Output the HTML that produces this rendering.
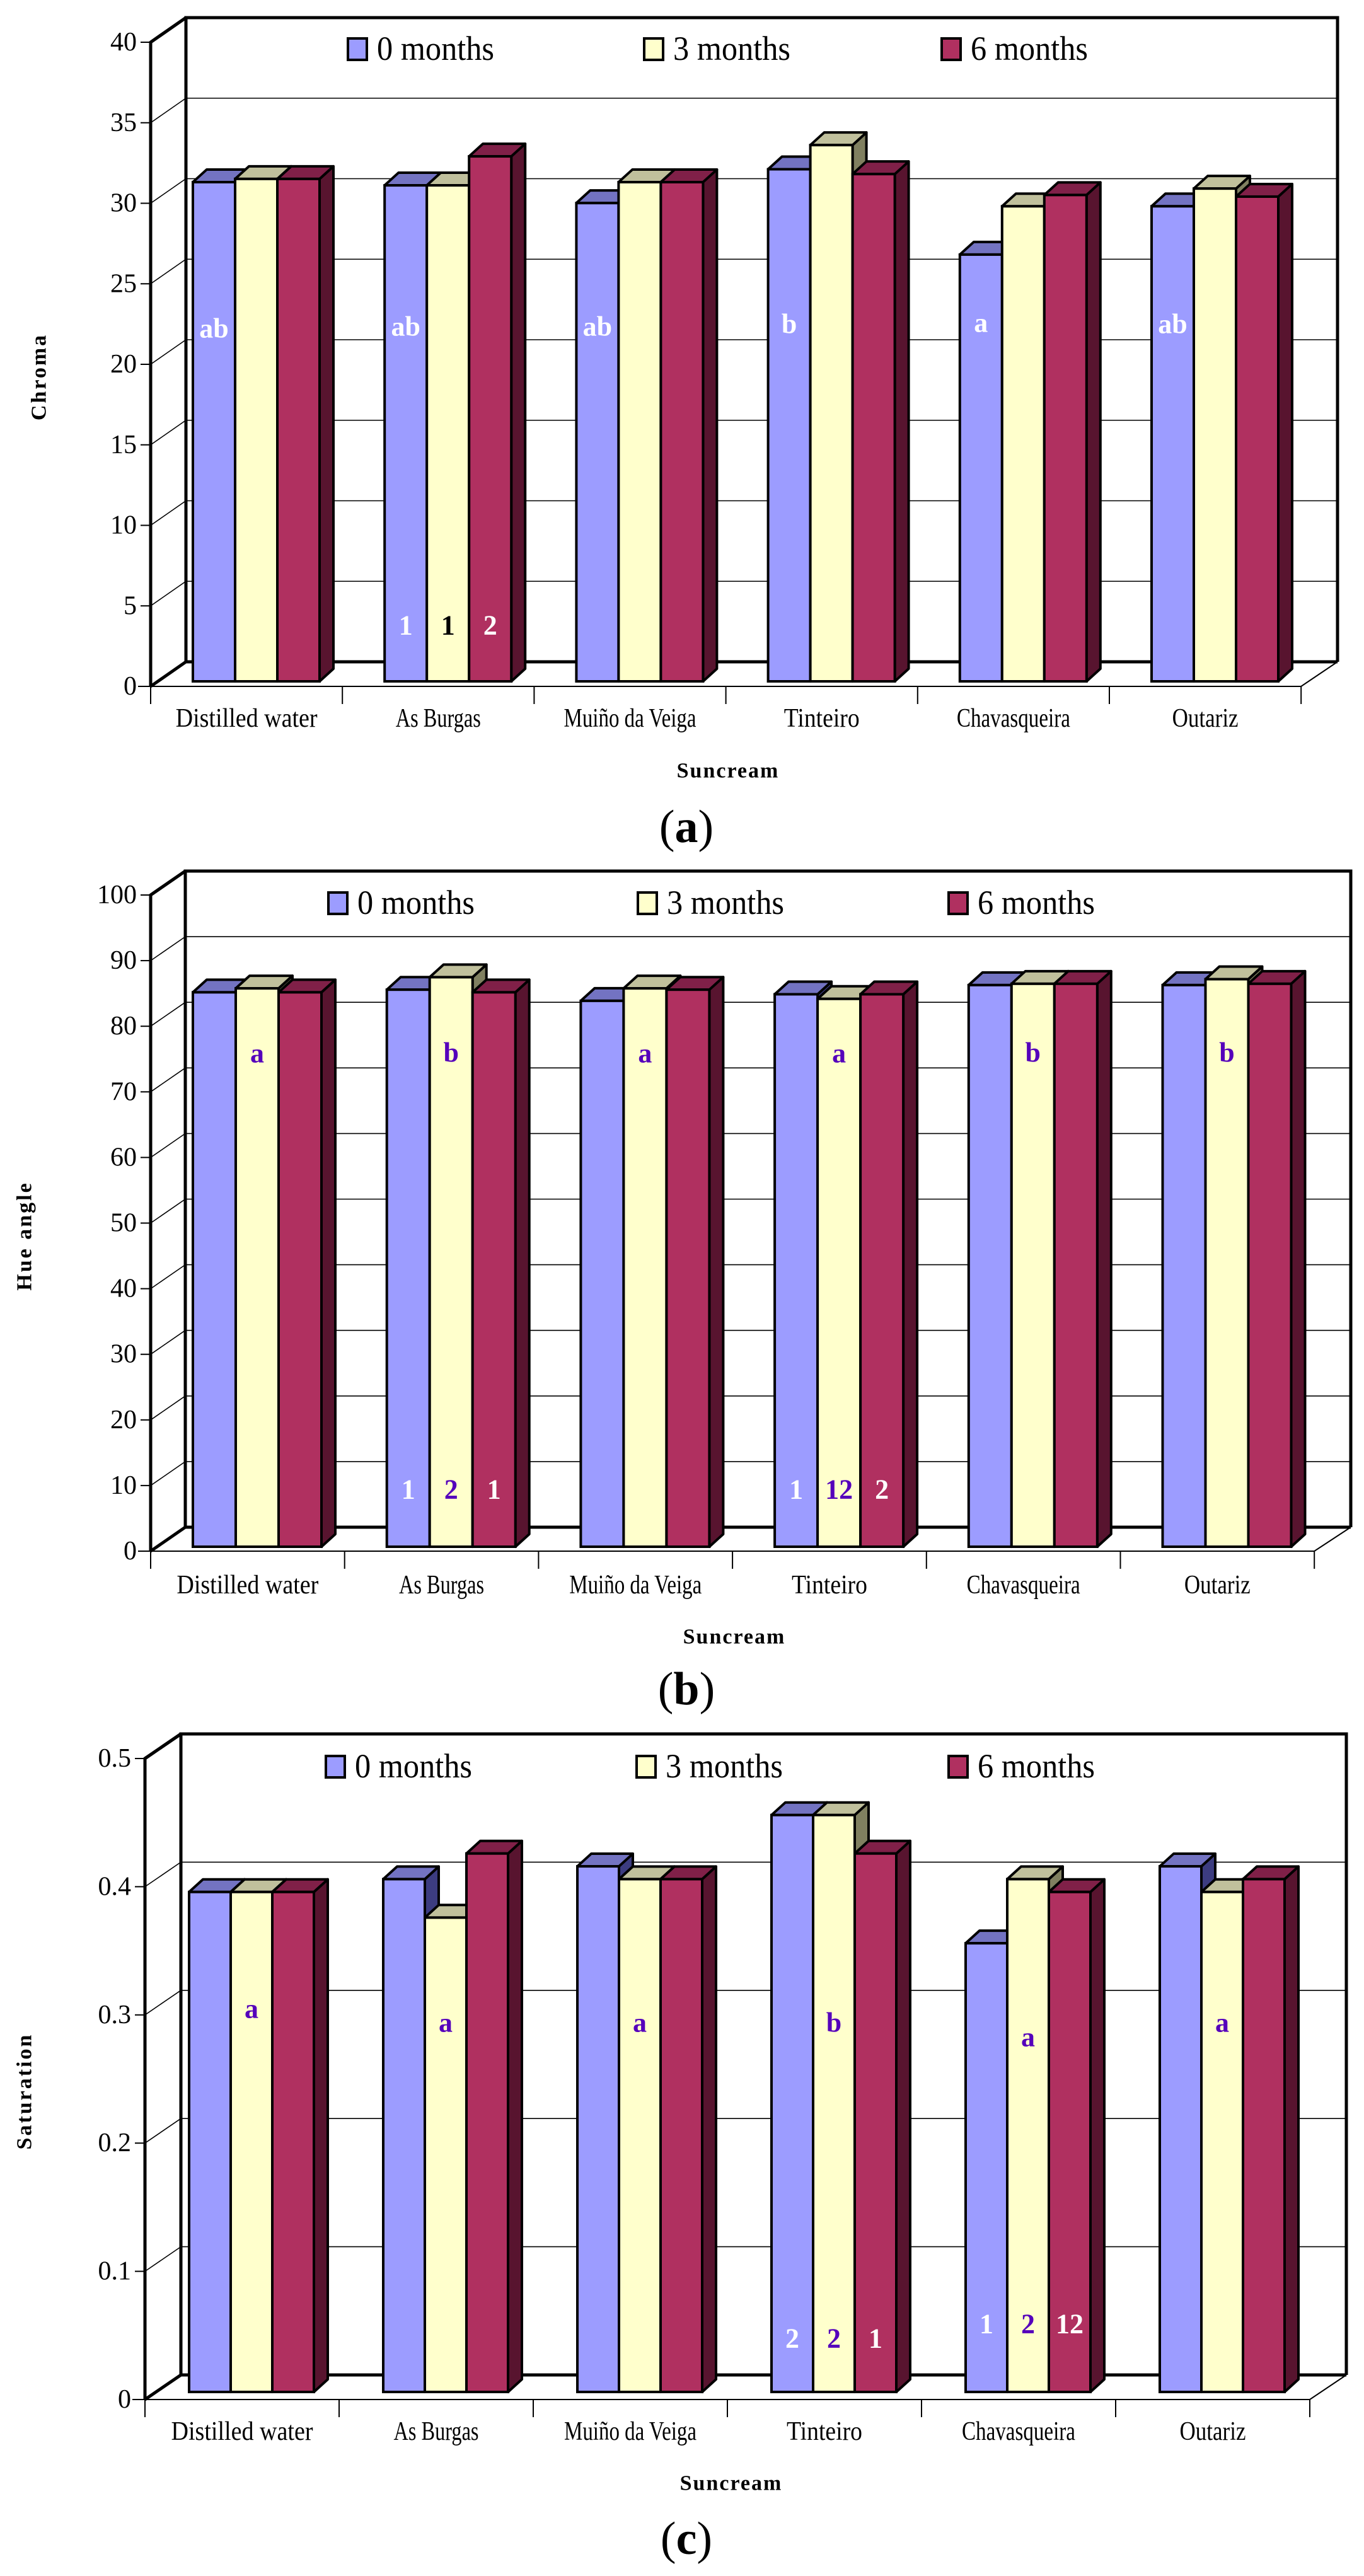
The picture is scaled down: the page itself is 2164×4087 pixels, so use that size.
<!DOCTYPE html>
<html><head><meta charset="utf-8"><style>
html,body{margin:0;padding:0;background:#fff}
svg{display:block;font-family:"Liberation Serif",serif}
</style></head><body>
<svg id="fig" width="2164" height="4087" viewBox="0 0 2164 4087" xmlns="http://www.w3.org/2000/svg"></svg>
<script>
// ---------- shared data ----------
const categories = ["Distilled water","As Burgas","Muiño da Veiga","Tinteiro","Chavasqueira","Outariz"];
const seriesNames = ["0 months","3 months","6 months"];
// chart a: Chroma
const chromaM0 = [31.0,30.8,29.7,31.8,26.5,29.5];
const chromaM3 = [31.2,30.8,31.0,33.3,29.5,30.6];
const chromaM6 = [31.2,32.6,31.0,31.5,30.2,30.1];
const chromaTicks = [0,5,10,15,20,25,30,35,40];
const chromaLetters = ["ab","ab","ab","b","a","ab"];
const chromaNums = [null,["1","1","2"],null,null,null,null];
// chart b: Hue angle
const hueM0 = [84.5,84.9,83.2,84.2,85.6,85.6];
const hueM3 = [85.1,86.8,85.1,83.5,85.8,86.5];
const hueM6 = [84.5,84.5,84.9,84.2,85.8,85.8];
const hueTicks = [0,10,20,30,40,50,60,70,80,90,100];
const hueLetters = ["a","b","a","a","b","b"];
const hueNums = [null,["1","2","1"],null,["1","12","2"],null,null];
// chart c: Saturation
const satM0 = [0.39,0.40,0.41,0.45,0.35,0.41];
const satM3 = [0.39,0.37,0.40,0.45,0.40,0.39];
const satM6 = [0.39,0.42,0.40,0.42,0.39,0.40];
const satTicks = [0,0.1,0.2,0.3,0.4,0.5];
const satLetters = ["a","a","a","b","a","a"];
const satNums = [null,null,null,["2","2","1"],["1","2","12"],null];

const NS="http://www.w3.org/2000/svg";
const svg=document.getElementById('fig');
function mk(tag,attrs,parent){const e=document.createElementNS(NS,tag);for(const k in attrs)e.setAttribute(k,attrs[k]);(parent||svg).appendChild(e);return e;}

const FRONT=["#9c9cff","#ffffcc","#b03060"];
const TOP=["#7373c2","#c0c09c","#802048"];
const SIDE=["#3c3c80","#808060","#58142f"];
const PURPLE="#5500bb";

function chart(cfg){
  const g=mk('g',{});
  
  
  const ax=cfg.axisX,y0=cfg.y0,dx=cfg.dx,dy=cfg.dy,cw=cfg.cw;
  const maxT=cfg.ticks[cfg.ticks.length-1];
  const yS=v=>y0-(v/maxT)*(y0-cfg.yTop);
  const pxPerUnit=(y0-cfg.yTop)/maxT;
  const backL=ax+dx, backR=cfg.backR, floorR=ax+6*cw;
  cfg.ticks.forEach((t,i)=>{
    const y=yS(t);
    if(i>0){
      const gl=mk('line',{x1:backL,y1:y-dy,x2:backR,y2:y-dy,stroke:'#000','stroke-width':(i===cfg.ticks.length-1)?5:1.6},g);
      
      
      const dl=mk('line',{x1:ax,y1:y,x2:backL,y2:y-dy,stroke:'#000','stroke-width':(i===cfg.ticks.length-1)?5:1.6},g);
      
      
    }
    const tk=mk('line',{x1:ax-16,y1:y,x2:ax,y2:y,stroke:'#000','stroke-width':2},g);
    
    
    const tl=mk('text',{x:ax-22,y:y,'text-anchor':'end','dominant-baseline':'central','font-size':42,fill:'#000'},g);
    
    
    tl.textContent=String(t);
  });
  const fr=mk('path',{d:`M${backL},${y0-dy} V${cfg.yTop-dy} H${backR} V${y0-dy} M${ax},${y0} V${cfg.yTop} L${backL},${cfg.yTop-dy} M${ax},${y0} L${backL},${y0-dy} H${backR}`,fill:'none',stroke:'#000','stroke-width':5},g);
  
  
  const fl=mk('path',{d:`M${ax-20},${y0} H${floorR} L${backR},${y0-dy}`,fill:'none',stroke:'#000','stroke-width':2},g);
  
  
  categories.forEach((c,i)=>{
    const x=ax+i*cw;
    const ct=mk('line',{x1:x,y1:y0,x2:x,y2:y0+28,stroke:'#000','stroke-width':2},g);
    
    
    if(i===5){const ct2=mk('line',{x1:x+cw,y1:y0,x2:x+cw,y2:y0+28,stroke:'#000','stroke-width':2},g);
      
      }
    const t=mk('text',{x:x+cw/2,y:cfg.catY,'text-anchor':'middle','dominant-baseline':'central','font-size':42,fill:'#000',textLength:Math.round(c.length*15),lengthAdjust:'spacingAndGlyphs'},g);
    
    
    t.textContent=c;
  });
  const bw=cfg.bw, bdx=22, bdy=20;
  categories.forEach((c,i)=>{
    const gx=ax+i*cw+cfg.barOff;
    cfg.series.forEach((arr,s)=>{
      const v=arr[i];
      const x=gx+s*bw, yt=cfg.baseY-v*pxPerUnit, yb=cfg.baseY;
      const side=mk('path',{d:`M${x+bw},${yt} L${x+bw+bdx},${yt-bdy} V${yb-bdy} L${x+bw},${yb} Z`,fill:SIDE[s],stroke:'#000','stroke-width':4,'stroke-linejoin':'round'},g);
      
      
      const top=mk('path',{d:`M${x},${yt} L${x+bdx},${yt-bdy} H${x+bw+bdx} L${x+bw},${yt} Z`,fill:TOP[s],stroke:'#000','stroke-width':4,'stroke-linejoin':'round'},g);
      
      
      const r=mk('rect',{x:x,y:yt,width:bw,height:yb-yt,fill:FRONT[s],stroke:'#000','stroke-width':4},g);
      
      
    });
    const li=cfg.letterBar;
    const lt=mk('text',{x:gx+li*bw+bw/2,y:cfg.letterY[i],'text-anchor':'middle','dominant-baseline':'central','font-size':44,'font-weight':'bold',fill:cfg.letterColor},g);
    
    
    lt.textContent=cfg.letters[i];
    const nums=cfg.nums[i];
    if(nums){nums.forEach((n,s)=>{
      const col=cfg.numColors[s];
      const nt=mk('text',{x:gx+s*bw+bw/2,y:cfg.numY[i],'text-anchor':'middle','dominant-baseline':'central','font-size':44,'font-weight':'bold',fill:col},g);
      
      
      nt.textContent=n;
    });}
  });
  cfg.legendX.forEach((lx,s)=>{
    const r=mk('rect',{x:lx,y:cfg.legendY-16,width:30,height:34,fill:FRONT[s],stroke:'#000','stroke-width':4},g);
    
    
    const t=mk('text',{x:lx+46,y:cfg.legendY,'dominant-baseline':'central','font-size':54,fill:'#000',textLength:186,lengthAdjust:'spacingAndGlyphs'},g);
    
    
    t.textContent=seriesNames[s];
  });
  const yt=mk('text',{x:0,y:0,'text-anchor':'middle','dominant-baseline':'central','font-size':34,'font-weight':'bold','letter-spacing':3,transform:`translate(${cfg.yTitleX},${cfg.yTitleY}) rotate(-90)`},g);
  
  
  yt.textContent=cfg.yTitle;
  const xt=mk('text',{x:cfg.xTitleX,y:cfg.xTitleY,'text-anchor':'middle','dominant-baseline':'central','font-size':34,'font-weight':'bold','letter-spacing':2},g);
  
  
  xt.textContent='Suncream';
  const pl=mk('text',{x:1089,y:cfg.panelY,'text-anchor':'middle','dominant-baseline':'central','font-size':74},g);
  
  
  pl.innerHTML='(<tspan font-weight="bold">'+cfg.panel+'</tspan>)';
}

chart({name:'chroma-chart',axisX:239,y0:1089,yTop:67,dx:56,dy:39,cw:304.2,backR:2122,baseY:1081,barOff:67,bw:67,
  ticks:chromaTicks,series:[chromaM0,chromaM3,chromaM6],letters:chromaLetters,letterBar:0,letterColor:'#fff',
  letterY:[521,518,518,514,512,514],nums:chromaNums,numY:[992,992,992,992,992,992],numColors:['#fff','#000','#fff'],
  legendX:[552,1022,1494],legendY:77,catY:1140,yTitle:'Chroma',yTitleX:62,yTitleY:598,xTitleX:1155,xTitleY:1223,panelY:1312,panel:'a'});
chart({name:'hue-angle-chart',axisX:239,y0:2461,yTop:1420,dx:55,dy:38,cw:307.7,backR:2143,baseY:2454,barOff:67,bw:68,
  ticks:hueTicks,series:[hueM0,hueM3,hueM6],letters:hueLetters,letterBar:1,letterColor:PURPLE,
  letterY:[1671,1670,1671,1671,1670,1670],nums:hueNums,numY:[2363,2363,2363,2363,2363,2363],numColors:['#fff',PURPLE,'#fff'],
  legendX:[521,1012,1505],legendY:1432,catY:2515,yTitle:'Hue angle',yTitleX:39,yTitleY:1961,xTitleX:1165,xTitleY:2597,panelY:2680,panel:'b'});
chart({name:'saturation-chart',axisX:230,y0:3807,yTop:2790,dx:57,dy:39,cw:308,backR:2136,baseY:3795,barOff:70,bw:66,
  ticks:satTicks,series:[satM0,satM3,satM6],letters:satLetters,letterBar:1,letterColor:PURPLE,
  letterY:[3187,3209,3209,3209,3232,3209],nums:satNums,numY:[3687,3687,3687,3710,3687,3687],numColors:['#fff',PURPLE,'#fff'],
  legendX:[517,1010,1505],legendY:2802,catY:3858,yTitle:'Saturation',yTitleX:39,yTitleY:3318,xTitleX:1160,xTitleY:3940,panelY:4028,panel:'c'});
</script>
</body></html>
